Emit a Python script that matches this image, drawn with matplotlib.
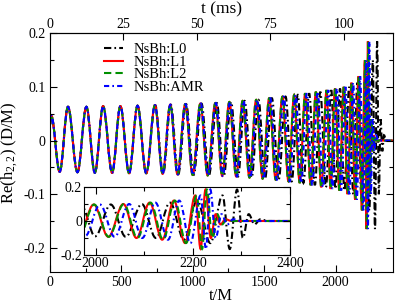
import numpy as np
import matplotlib
matplotlib.use("Agg")
import matplotlib.pyplot as plt
from matplotlib.ticker import MultipleLocator, FixedLocator
from matplotlib.path import Path
from matplotlib.patches import PathPatch
from matplotlib.lines import Line2D

plt.rcParams['font.family'] = ['Liberation Serif', 'DejaVu Serif']
plt.rcParams['mathtext.fontset'] = 'custom'
plt.rcParams['mathtext.rm'] = 'Liberation Serif'
plt.rcParams['mathtext.it'] = 'Liberation Serif:italic'

# ---- data: extrema of Re(h22) (L1 reference) ----
t_l1 = [0, 8, 68, 126, 192, 255, 314, 372, 435, 493, 554, 613, 674, 735, 789,
        842, 893, 947, 999, 1053, 1104, 1158, 1206, 1256, 1304, 1349, 1397, 1444,
        1489, 1535, 1581, 1628, 1670, 1710, 1749, 1787, 1826, 1862, 1900, 1937,
        1965, 1996, 2026, 2057, 2084, 2111, 2137, 2161, 2184, 2205, 2216, 2226,
        2237, 2247, 2257, 2267, 2280, 2400]
h_l1 = [0.030, 0.047, -0.058, 0.063, -0.059, 0.063, -0.060, 0.064, -0.060, 0.064,
        -0.061, 0.065, -0.061, 0.066, -0.062, 0.067, -0.063, 0.068, -0.064, 0.069,
        -0.065, 0.070, -0.066, 0.072, -0.067, 0.074, -0.069, 0.076, -0.071, 0.079,
        -0.073, 0.082, -0.076, 0.085, -0.079, 0.088, -0.083, 0.091, -0.087, 0.094,
        -0.090, 0.097, -0.093, 0.100, -0.100, 0.108, -0.110, 0.120, -0.130, 0.150,
        -0.165, 0.185, -0.100, 0.040, -0.020, 0.010, 0.0, 0.0]
# time lags (M) of the other resolutions relative to L1, per extremum
lag_l2 = [0]*40 + [1, 1, 1, 1, 2, 2, 2, 2, 2, 3, 3, 3, 3, 3, 3, 3, 3, 0]
lag_amr = [0]*15 + [1, 1, 2, 2, 3, 3, 4, 4, 5, 5, 6, 6, 7, 7, 8, 8, 9, 9, 10, 10,
                    11, 11, 12, 12, 12, 13, 13, 13, 12, 12, 12, 12, 11, 11, 11,
                    11, 10, 10, 12, 14, 16, 20, 0]
lag_l0 = [0]*13 + [2, 3, 4, 5, 6, 7, 8, 9, 10, 11, 12, 13, 14, 15, 16, 17, 19, 20,
                   22, 23, 25, 26, 28, 29, 31, 32, 33, 34, 35, 36, 38, 40, 42, 45,
                   48, 52, 56, 60, 65, 66, 68, 70, 72, 75, 0]

labels = ['NsBh:L0', 'NsBh:L1', 'NsBh:L2', 'NsBh:AMR']
colors = ['black', 'red', '#009000', 'blue']
dashes = [(3.5, 1.5, 0.8, 1.5), None, (3.5, 2.0), (2.5, 1.5, 0.8, 1.5)]
lags = [lag_l0, [0]*len(t_l1), lag_l2, lag_amr]

ms_per_M = 0.0486
K = 0.3634  # Bezier handle fraction giving sinusoid-like arcs between extrema


def wave_path(t, h):
    # smooth curve through extrema: cubic Bezier arcs with flat tangents at extrema
    verts = [(t[0], h[0])]
    codes = [Path.MOVETO]
    for i in range(len(t) - 1):
        d = (t[i+1] - t[i]) * K
        verts += [(t[i] + d, h[i]), (t[i+1] - d, h[i+1]), (t[i+1], h[i+1])]
        codes += [Path.CURVE4] * 3
    return Path(verts, codes)


fig = plt.figure(figsize=(3.95, 3.03), dpi=100)
W, H = 395.0, 303.0
ax = fig.add_axes([50/W, 1-272/H, (392.7-50)/W, (272-33.3)/H])


def draw(a, lw=1.5):
    handles = []
    for lab, c, d, lg in zip(labels, colors, dashes, lags):
        t = np.array(t_l1, float) + np.array(lg, float)
        ls = '-' if d is None else (0, d)
        a.add_patch(PathPatch(wave_path(t, h_l1), fill=False, edgecolor=c, lw=lw,
                              linestyle=ls, capstyle='butt'))
        handles.append(Line2D([], [], color=c, lw=lw, linestyle=ls, label=lab))
    return handles


handles = draw(ax)
ax.set_xlim(0, 2400)
ax.set_ylim(-0.245, 0.2)
ax.xaxis.set_major_locator(MultipleLocator(500))
ax.xaxis.set_minor_locator(MultipleLocator(250))
ax.yaxis.set_minor_locator(MultipleLocator(0.05))
ax.set_yticks([-0.2, -0.1, 0, 0.1, 0.2])
ax.set_yticklabels(['-0.2', '-0.1', '0', '0.1', '0.2'])
ax.tick_params(which='both', direction='in', right=True, top=False, labelsize=10,
               width=0.8, pad=3)
ax.tick_params(which='major', length=5)
ax.tick_params(which='minor', length=3)
for s in ax.spines.values():
    s.set_linewidth(0.8)
ax.set_xlabel('t/M', fontsize=12, labelpad=-1)
ax.set_ylabel('Re(h$_{\\mathrm{2,2}}$) (D/M)', fontsize=12, labelpad=3)

sec = ax.secondary_xaxis('top', functions=(lambda t: t*ms_per_M, lambda m: m/ms_per_M))
sec.set_xticks([0, 25, 50, 75, 100])
sec.tick_params(direction='in', length=5, width=0.8, labelsize=10, pad=2)
sec.set_xlabel('t (ms)', fontsize=12.5, labelpad=3)

leg = ax.legend(handles=handles, loc='upper left',
                bbox_to_anchor=((104-50)/(392.7-50), 1-(43-33.3)/(272-33.3)),
                frameon=False, fontsize=10.5, handlelength=1.3, handletextpad=0.7,
                labelspacing=-0.05, borderaxespad=0, borderpad=0)

axi = fig.add_axes([84/W, 1-255/H, 206/W, 68/H])
draw(axi)
axi.set_xlim(1976, 2400)
axi.set_ylim(-0.2, 0.2)
axi.set_xticks([2000, 2200, 2400])
axi.xaxis.set_minor_locator(FixedLocator([2100, 2300]))
axi.set_yticks([-0.2, 0, 0.2])
axi.set_yticklabels(['-0.2', '0', '0.2'])
axi.yaxis.set_minor_locator(FixedLocator([-0.1, 0.1]))
axi.tick_params(which='both', direction='in', top=True, right=True, labelsize=10,
                width=0.8, pad=1.5)
axi.tick_params(which='major', length=5)
axi.tick_params(which='minor', length=3)
for s in axi.spines.values():
    s.set_linewidth(0.8)

fig.savefig('out.png', dpi=100)
